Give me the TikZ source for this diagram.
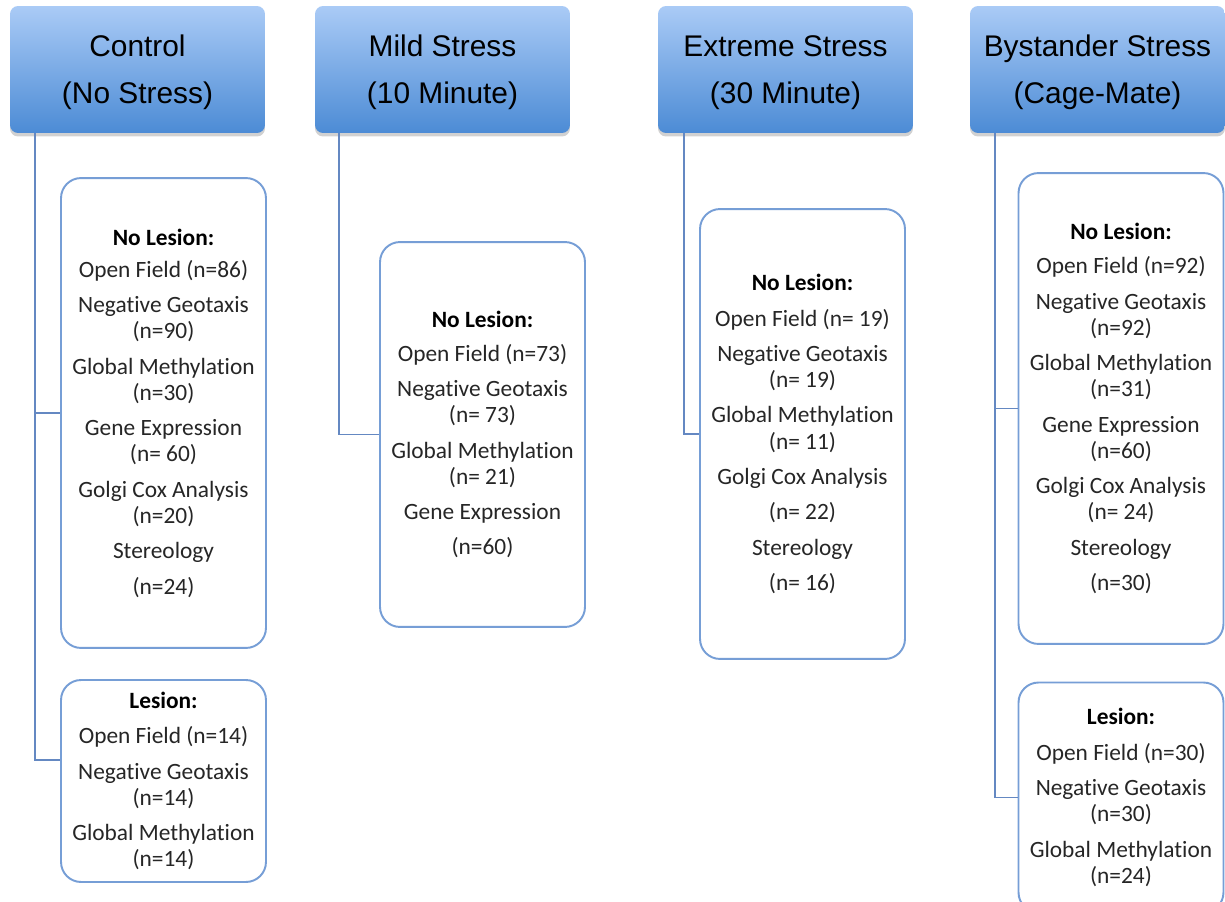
\documentclass[tikz,border=0pt]{standalone}
\usepackage{fontspec}
\setmainfont{Liberation Sans}
\newfontfamily\boxfont[Ligatures=NoCommon]{Carlito}
\usepackage{tikz}
\usetikzlibrary{positioning,shadows,calc}
\definecolor{hdrtop}{RGB}{170,203,246}
\definecolor{hdrbot}{RGB}{76,139,213}
\definecolor{boxline}{RGB}{118,158,214}
\definecolor{linkC}{RGB}{100,136,194}
\tikzset{
  hdr/.style={rectangle, rounded corners=0.16cm, minimum width=5.1cm, minimum height=2.54cm,
              top color=hdrtop, bottom color=hdrbot, draw=none, align=center,
              font=\fontsize{17}{26.6}\selectfont, text depth=-2pt,
              drop shadow={shadow xshift=0pt, shadow yshift=-2pt, opacity=0.3, fill=black!60}},
  grp/.style={rectangle, rounded corners=0.4cm, minimum width=4.1cm, draw=boxline,
              line width=1.1pt, fill=white, align=center, text=black!85,
              font=\boxfont\fontsize{13.3}{14.9}\selectfont},
  link/.style={draw=linkC, line width=1.1pt},
}
\begin{document}
\begin{tikzpicture}[x=0.02cm,y=-0.02cm]
  \useasboundingbox (0,0) rectangle (1225,902);
  % headers
  \node[hdr] (ctrl) at (137.5,69.5) {Control\\(No Stress)};
  \node[hdr] (mild) at (442.5,69.5) {Mild Stress\\(10 Minute)};
  \node[hdr] (extr) at (785.5,69.5) {Extreme Stress\\(30 Minute)};
  \node[hdr] (byst) at (1097.5,69.5) {Bystander Stress\\(Cage-Mate)};
  % control groups
  \node[grp, minimum height=9.4cm] (ctrlN) at (163.5,413) {\textbf{\color{black}No Lesion:}\\[3.5pt]
    Open Field (n=86)\\[5.2pt] Negative Geotaxis\\(n=90)\\[5.2pt] Global Methylation\\(n=30)\\[5.2pt]
    Gene Expression\\(n= 60)\\[5.2pt] Golgi Cox Analysis\\(n=20)\\[5.2pt] Stereology\\[5.2pt] (n=24)};
  \node[grp, minimum height=4.04cm] (ctrlL) at (163.5,781) {\textbf{\color{black}Lesion:}\\[5.2pt]
    Open Field (n=14)\\[5.2pt] Negative Geotaxis\\(n=14)\\[5.2pt] Global Methylation\\(n=14)};
  % mild group
  \node[grp, minimum height=7.7cm] (mildN) at (482.5,434.5) {\textbf{\color{black}No Lesion:}\\[4.5pt]
    Open Field (n=73)\\[5.2pt] Negative Geotaxis\\(n= 73)\\[5.2pt] Global Methylation\\(n= 21)\\[5.2pt]
    Gene Expression\\[5.2pt] (n=60)};
  % extreme group
  \node[grp, minimum height=9cm] (extrN) at (802.5,434) {\textbf{\color{black}No Lesion:}\\[5.2pt]
    Open Field (n= 19)\\[5.2pt] Negative Geotaxis\\(n= 19)\\[5.2pt] Global Methylation\\(n= 11)\\[5.2pt]
    Golgi Cox Analysis\\[5.2pt] (n= 22)\\[5.2pt] Stereology\\[5.2pt] (n= 16)};
  % bystander groups
  \node[grp, minimum height=9.42cm] (bystN) at (1121,408.5) {\textbf{\color{black}No Lesion:}\\[4.5pt]
    Open Field (n=92)\\[5.2pt] Negative Geotaxis\\(n=92)\\[5.2pt] Global Methylation\\(n=31)\\[5.2pt]
    Gene Expression\\(n=60)\\[5.2pt] Golgi Cox Analysis\\(n= 24)\\[5.2pt] Stereology\\[5.2pt] (n=30)};
  \node[grp, minimum height=4.6cm] (bystL) at (1121,797.5) {\textbf{\color{black}Lesion:}\\[5.2pt]
    Open Field (n=30)\\[5.2pt] Negative Geotaxis\\(n=30)\\[5.2pt] Global Methylation\\(n=24)};
  % connectors
  \draw[link] ([xshift=0.5cm]ctrl.south west) |- (ctrlN.west);
  \draw[link] ([xshift=0.5cm]ctrl.south west) |- ([yshift=0.42cm]ctrlL.west);
  \draw[link] ([xshift=0.48cm]mild.south west) |- (mildN.west);
  \draw[link] ([xshift=0.52cm]extr.south west) |- (extrN.west);
  \draw[link] ([xshift=0.5cm]byst.south west) |- (bystN.west);
  \draw[link] ([xshift=0.5cm]byst.south west) |- (bystL.west);
\end{tikzpicture}
\end{document}
